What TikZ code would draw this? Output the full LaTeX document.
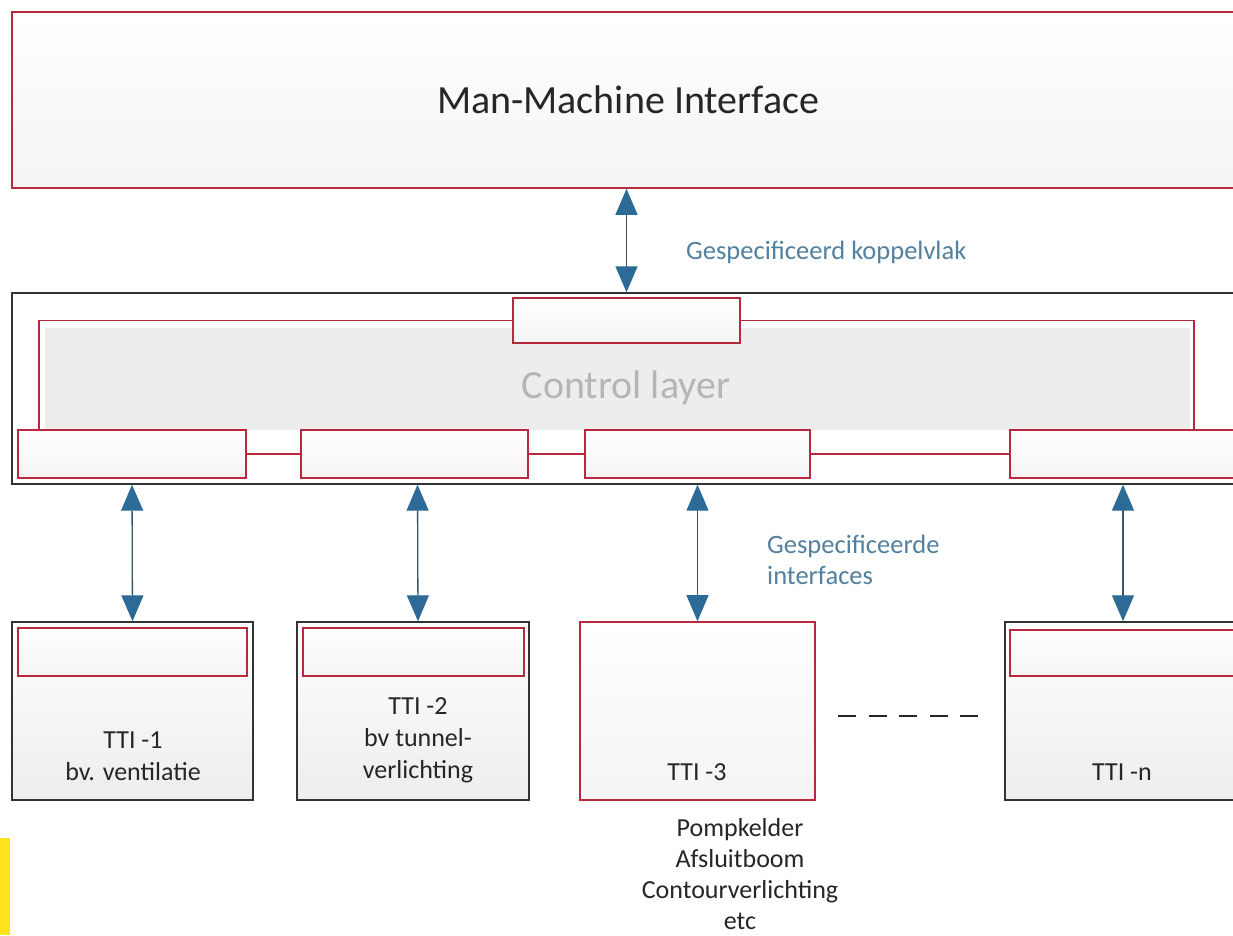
\documentclass[tikz,border=0pt]{standalone}
\usepackage{fontspec}
\setmainfont{Carlito}
\usetikzlibrary{arrows.meta}
\definecolor{boxred}{HTML}{B8283F}
\definecolor{arrowblue}{HTML}{2D6B96}
\definecolor{shaft}{HTML}{3A5568}
\definecolor{labelblue}{HTML}{52809E}
\definecolor{ctlgray}{HTML}{B5B5B5}
\definecolor{fillgray}{HTML}{EDEDED}
\definecolor{hiyellow}{HTML}{FFE11C}
\begin{document}
\begin{tikzpicture}[x=1pt,y=-1pt,
  redbox/.style={draw=boxred,line width=1.6pt,rectangle,inner sep=0pt,top color=white,bottom color=fillgray!60},
  blackbox/.style={draw=black!80,line width=1.4pt,rectangle,inner sep=0pt,top color=white,bottom color=fillgray},
  redline/.style={draw=boxred,line width=1.6pt},
  biarrow/.style={draw=shaft,line width=1.3pt,{Triangle[width=22pt,length=26pt,fill=arrowblue,color=arrowblue]}-{Triangle[width=22pt,length=26pt,fill=arrowblue,color=arrowblue]}},
  txt/.style={font=\fontsize{26}{32}\selectfont,align=center,inner sep=0pt,text=black!85},
  bluetxt/.style={font=\fontsize{26.5}{31}\selectfont,align=left,inner sep=0pt,text=labelblue,anchor=west}
]
\useasboundingbox (0,0) rectangle (1233,935);
\fill[white] (0,0) rectangle (1233,935);
\fill[hiyellow] (0,838) rectangle (10,935);

% Man-Machine Interface
\node[redbox,minimum width=1232pt,minimum height=176pt,font=\fontsize{40}{44}\selectfont,text=black!85] (mmi) at (628,100) {Man-Machine Interface};

% Control layer
\node[draw=black!80,line width=1.4pt,fill=white,rectangle,inner sep=0pt,minimum width=1232pt,minimum height=191pt] (ctl) at (628,388.5) {};
\fill[fillgray] (45,328) rectangle (1190,430);
\node[font=\fontsize{40}{44}\selectfont,text=ctlgray,inner sep=0pt] (ctltxt) at (626,388) {Control layer};

\node[redbox,minimum width=227pt,minimum height=45pt] (tb) at (626.5,320.5) {};
\node[redbox,minimum width=228pt,minimum height=48pt] (b1) at (132,454) {};
\node[redbox,minimum width=227pt,minimum height=48pt] (b2) at (414.5,454) {};
\node[redbox,minimum width=225pt,minimum height=48pt] (b3) at (697.5,454) {};
\node[redbox,minimum width=230pt,minimum height=48pt] (b4) at (1125,454) {};

\draw[redline] (tb.west) -| ([xshift=22pt]b1.north west);
\draw[redline] (tb.east) -| ([xshift=185pt]b4.north west);
\draw[redline] (b1.east) -- (b2.west);
\draw[redline] (b2.east) -- (b3.west);
\draw[redline] (b3.east) -- (b4.west);

% TTI boxes
\node[blackbox,minimum width=241pt,minimum height=178pt] (t1) at (132.5,711) {};
\node[blackbox,minimum width=232pt,minimum height=178pt] (t2) at (413,711) {};
\node[redbox,minimum width=235pt,minimum height=178pt] (t3) at (697.5,711) {};
\node[blackbox,minimum width=235pt,minimum height=178pt] (tn) at (1122.5,711) {};

\node[redbox,minimum width=229pt,minimum height=48pt] (i1) at (132.5,652) {};
\node[redbox,minimum width=221pt,minimum height=48pt] (i2) at (413.5,652) {};
\node[redbox,minimum width=230pt,minimum height=46pt] (in) at (1125,653) {};

\node[txt] (l1) at (133,756) {TTI -1\\bv. ventilatie};
\node[txt] (l2) at (418,740) {TTI -2\\bv tunnel-\\verlichting};
\node[txt] (l3) at (697,772) {TTI -3};
\node[txt] (ln) at (1122,772) {TTI -n};
\node[txt,font=\fontsize{26}{31}\selectfont] (l3b) at (740,874) {Pompkelder\\Afsluitboom\\Contourverlichting\\etc};

% dashes
\coordinate (d1) at (838,716);
\coordinate (d2) at (978,716);
\draw[black!85,line width=1.6pt,dash pattern=on 18pt off 12.5pt] (d1) -- (d2);

% arrows
\draw[biarrow] (tb.north |- mmi.south) -- (tb.north |- ctl.north);
\draw[biarrow] (b1.south |- ctl.south) -- (t1.north);
\draw[biarrow] ([xshift=3pt]b2.south |- ctl.south) -- ([xshift=5pt]t2.north);
\draw[biarrow] (b3.south |- ctl.south) -- (t3.north);
\draw[biarrow] ([xshift=-2pt]b4.south |- ctl.south) -- ([xshift=0.5pt]tn.north);

% labels
\node[bluetxt] (lab1) at (686,252) {Gespecificeerd koppelvlak};
\node[bluetxt] (lab2) at (767,560) {Gespecificeerde\\interfaces};
\end{tikzpicture}
\end{document}
